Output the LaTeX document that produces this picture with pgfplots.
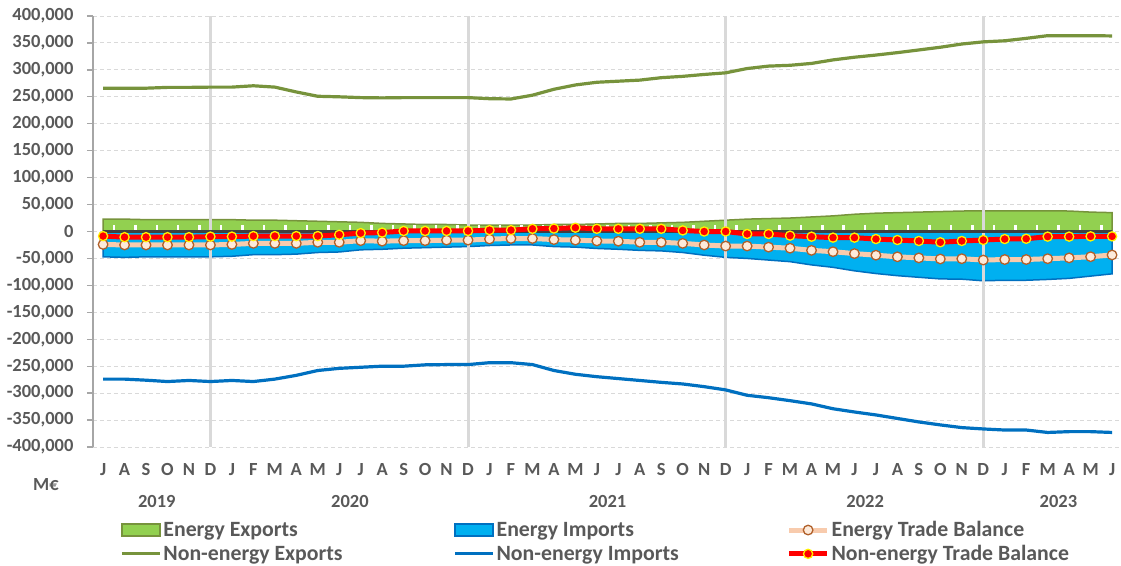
\documentclass[border=0pt]{standalone}
\usepackage{fontspec}
\setmainfont{Carlito}
\usepackage{pgfplots}
\pgfplotsset{compat=1.18}
\usepackage{pgfplotstable}

\definecolor{eefill}{HTML}{92D050}
\definecolor{eedraw}{HTML}{77933C}
\definecolor{eifill}{HTML}{00B0F0}
\definecolor{eidraw}{HTML}{0070C0}
\definecolor{nexcol}{HTML}{77933C}
\definecolor{neicol}{HTML}{0070C0}
\definecolor{etbline}{HTML}{F8CBAD}
\definecolor{etbfill}{HTML}{FDEADA}
\definecolor{etbmark}{HTML}{B0602A}
\definecolor{gridcol}{HTML}{D9D9D9}
\definecolor{zerocol}{HTML}{404040}
\definecolor{labcol}{HTML}{595959}
\definecolor{axcol}{HTML}{A6A6A6}

% monthly values, M EUR, Jul 2019 .. Jun 2023
\pgfplotstableread{
idx ee    ei     etb    nex    nei     neb
0   23000 -47000 -24000 266000 -274000 -8500
1   23000 -48000 -25000 266000 -274000 -10500
2   22000 -47000 -25000 266000 -276000 -10500
3   22000 -47000 -25000 267500 -278500 -10500
4   22000 -47000 -25000 267500 -276500 -10500
5   22000 -47000 -25000 268000 -278500 -9500
6   22000 -46000 -24000 268000 -276500 -9500
7   21000 -43000 -22000 270500 -278500 -8500
8   21000 -43000 -22000 268000 -274000 -8500
9   20000 -42000 -22000 259000 -267000 -8500
10  19000 -39000 -20000 251000 -258000 -8500
11  18000 -38000 -20000 250000 -254000 -6000
12  17000 -34000 -17000 248500 -252000 -3000
13  15000 -33000 -18000 248000 -250000 -2000
14  14000 -31000 -17000 248500 -250000 1000
15  13000 -30000 -17000 248500 -247500 1000
16  13000 -29000 -16000 248500 -247000 1000
17  12000 -28000 -16000 248500 -247000 1000
18  12000 -26000 -14000 246500 -243500 2500
19  12000 -25000 -13000 246000 -243500 2500
20  12000 -25000 -13000 253000 -247000 5000
21  13000 -28000 -15000 264000 -258000 5500
22  13000 -29000 -16000 272000 -265000 7000
23  14000 -31500 -17500 277000 -269500 5000
24  15000 -33000 -18000 279000 -273000 5000
25  15000 -35000 -20000 281000 -276500 5000
26  16000 -36000 -20000 285500 -280000 5000
27  17000 -39000 -22000 288000 -283000 2000
28  19000 -44000 -25000 291500 -288000 0
29  21000 -48000 -27000 294500 -294000 0
30  23000 -50000 -27000 302500 -304000 -4600
31  24000 -53000 -29000 307000 -308500 -4600
32  25000 -56000 -31000 308500 -314000 -7700
33  27000 -62000 -35000 312000 -320000 -9600
34  29000 -66500 -37500 318500 -329000 -11400
35  32000 -73000 -41000 323500 -335000 -11400
36  34000 -78000 -44000 327500 -340500 -14000
37  35000 -82000 -47000 332000 -347000 -15800
38  36000 -85000 -49000 337000 -353500 -17600
39  37000 -88000 -51000 342000 -359000 -20000
40  38000 -88500 -50500 348000 -364000 -17600
41  38500 -91500 -53000 352000 -366500 -15800
42  38500 -90500 -52000 354000 -368500 -14000
43  38500 -90500 -52000 358500 -368500 -13500
44  38500 -89000 -50500 363500 -373000 -9500
45  38000 -87000 -49000 363500 -371500 -9500
46  36000 -82800 -46800 363500 -371500 -9000
47  35000 -78600 -43600 363000 -373000 -9000
}\tradedata

\pgfplotsset{
  boxlegend/.style={legend image code/.code={
    \draw[##1, line width=1.5pt] (0pt,-6pt) rectangle (38pt,6pt);}},
  linelegend/.style={legend image code/.code={
    \draw[mark repeat=2, mark phase=2, ##1] plot coordinates {(0pt,0pt) (19pt,0pt) (38pt,0pt)};}},
}

\begin{document}
\begin{tikzpicture}[x=1pt,y=1pt]
\path[use as bounding box] (0,0) rectangle (1121,565);
\begin{axis}[
  at={(93pt,118pt)}, anchor=south west,
  scale only axis, width=1027pt, height=431pt,
  xmin=-0.47, xmax=47.37,
  ymin=-400000, ymax=400000,
  ytick={-400000,-350000,...,400000},
  scaled y ticks=false,
  every tick label/.append style={text=labcol, font=\fontsize{18.5}{22}\selectfont\bfseries},
  yticklabel style={/pgf/number format/.cd, fixed, 1000 sep={,}, assume math mode=true, /tikz/.cd, xshift=-10pt},
  xtick={0,...,47},
  xticklabels={J,A,S,O,N,D,J,F,M,A,M,J,J,A,S,O,N,D,J,F,M,A,M,J,J,A,S,O,N,D,J,F,M,A,M,J,J,A,S,O,N,D,J,F,M,A,M,J},
  xticklabel style={yshift=-7pt},
  extra x ticks={2.5,11.5,23.5,35.5,44.5},
  extra x tick labels={2019,2020,2021,2022,2023},
  extra x tick style={grid=none, xticklabel style={yshift=-32pt}},
  axis x line*=bottom, axis y line*=left,
  x axis line style={draw=none},
  y axis line style={draw=axcol, line width=1.3pt},
  xtick style={draw=none},
  ytick style={draw=axcol, line width=1.3pt},
  tick align=outside, major tick length=6pt,
  ymajorgrids,
  major grid style={draw=gridcol, line width=1pt, dash pattern=on 4pt off 3pt},
  legend columns=3,
  legend cell align=left,
  legend style={at={(0.0263,-0.1681)}, anchor=north west, draw=none, fill=none,
    inner sep=0pt, row sep=3pt, column sep=0pt,
    font=\fontsize{21.8}{25}\selectfont\bfseries,
    nodes={inner sep=2pt, text=labcol}},
]
\addplot[fill=eefill, draw=eedraw, line width=1.5pt, boxlegend] table[x=idx,y=ee]{\tradedata} \closedcycle;
\addlegendentry{\makebox[288pt][l]{Energy Exports}}
\addplot[fill=eifill, draw=eidraw, line width=1.5pt, boxlegend] table[x=idx,y=ei]{\tradedata} \closedcycle;
\addlegendentry{\makebox[288pt][l]{Energy Imports}}

% month separators, axis ticks and zero line above the areas
\addplot[forget plot, ycomb, draw=white, line width=2.5pt, no marks] coordinates {
 (0.5,12000) (1.5,12000) (2.5,12000) (3.5,12000) (4.5,12000) (5.5,12000) (6.5,12000) (7.5,12000)
 (8.5,12000) (9.5,12000) (10.5,12000) (11.5,12000) (12.5,12000) (13.5,12000) (14.5,12000) (15.5,12000)
 (16.5,12000) (17.5,12000) (18.5,12000) (19.5,12000) (20.5,12000) (21.5,12000) (22.5,12000) (23.5,12000)
 (24.5,12000) (25.5,12000) (26.5,12000) (27.5,12000) (28.5,12000) (29.5,12000) (30.5,12000) (31.5,12000)
 (32.5,12000) (33.5,12000) (34.5,12000) (35.5,12000) (36.5,12000) (37.5,12000) (38.5,12000) (39.5,12000)
 (40.5,12000) (41.5,12000) (42.5,12000) (43.5,12000) (44.5,12000) (45.5,12000) (46.5,12000)};
\addplot[forget plot, ycomb, draw=gridcol, line width=3pt, no marks] coordinates {(5,400000) (17,400000) (29,400000) (41,400000)};
\addplot[forget plot, ycomb, draw=gridcol, line width=3pt, no marks] coordinates {(5,-400000) (17,-400000) (29,-400000) (41,-400000)};
\addplot[forget plot, draw=zerocol, line width=2.5pt, no marks] coordinates {(0,0) (47,0)};

\addplot[draw=etbline, line width=5pt, line join=round, mark=*, mark size=4.8pt,
  mark options={fill=etbfill, draw=etbmark, line width=1.3pt}, linelegend] table[x=idx,y=etb]{\tradedata};
\addlegendentry{Energy Trade Balance}
\addplot[draw=nexcol, line width=3.2pt, line join=round, no marks, linelegend] table[x=idx,y=nex]{\tradedata};
\addlegendentry{\makebox[288pt][l]{Non-energy Exports}}
\addplot[draw=neicol, line width=3.2pt, line join=round, no marks, linelegend] table[x=idx,y=nei]{\tradedata};
\addlegendentry{\makebox[288pt][l]{Non-energy Imports}}
\addplot[draw=red, line width=5pt, line join=round, mark=*, mark size=4.6pt,
  mark options={fill=red, draw=yellow, line width=1.3pt}, linelegend] table[x=idx,y=neb]{\tradedata};
\addlegendentry{Non-energy Trade Balance}
\end{axis}
\node[font=\fontsize{18.5}{22}\selectfont\bfseries, text=labcol] at (46,80) {M€};
\end{tikzpicture}
\end{document}
